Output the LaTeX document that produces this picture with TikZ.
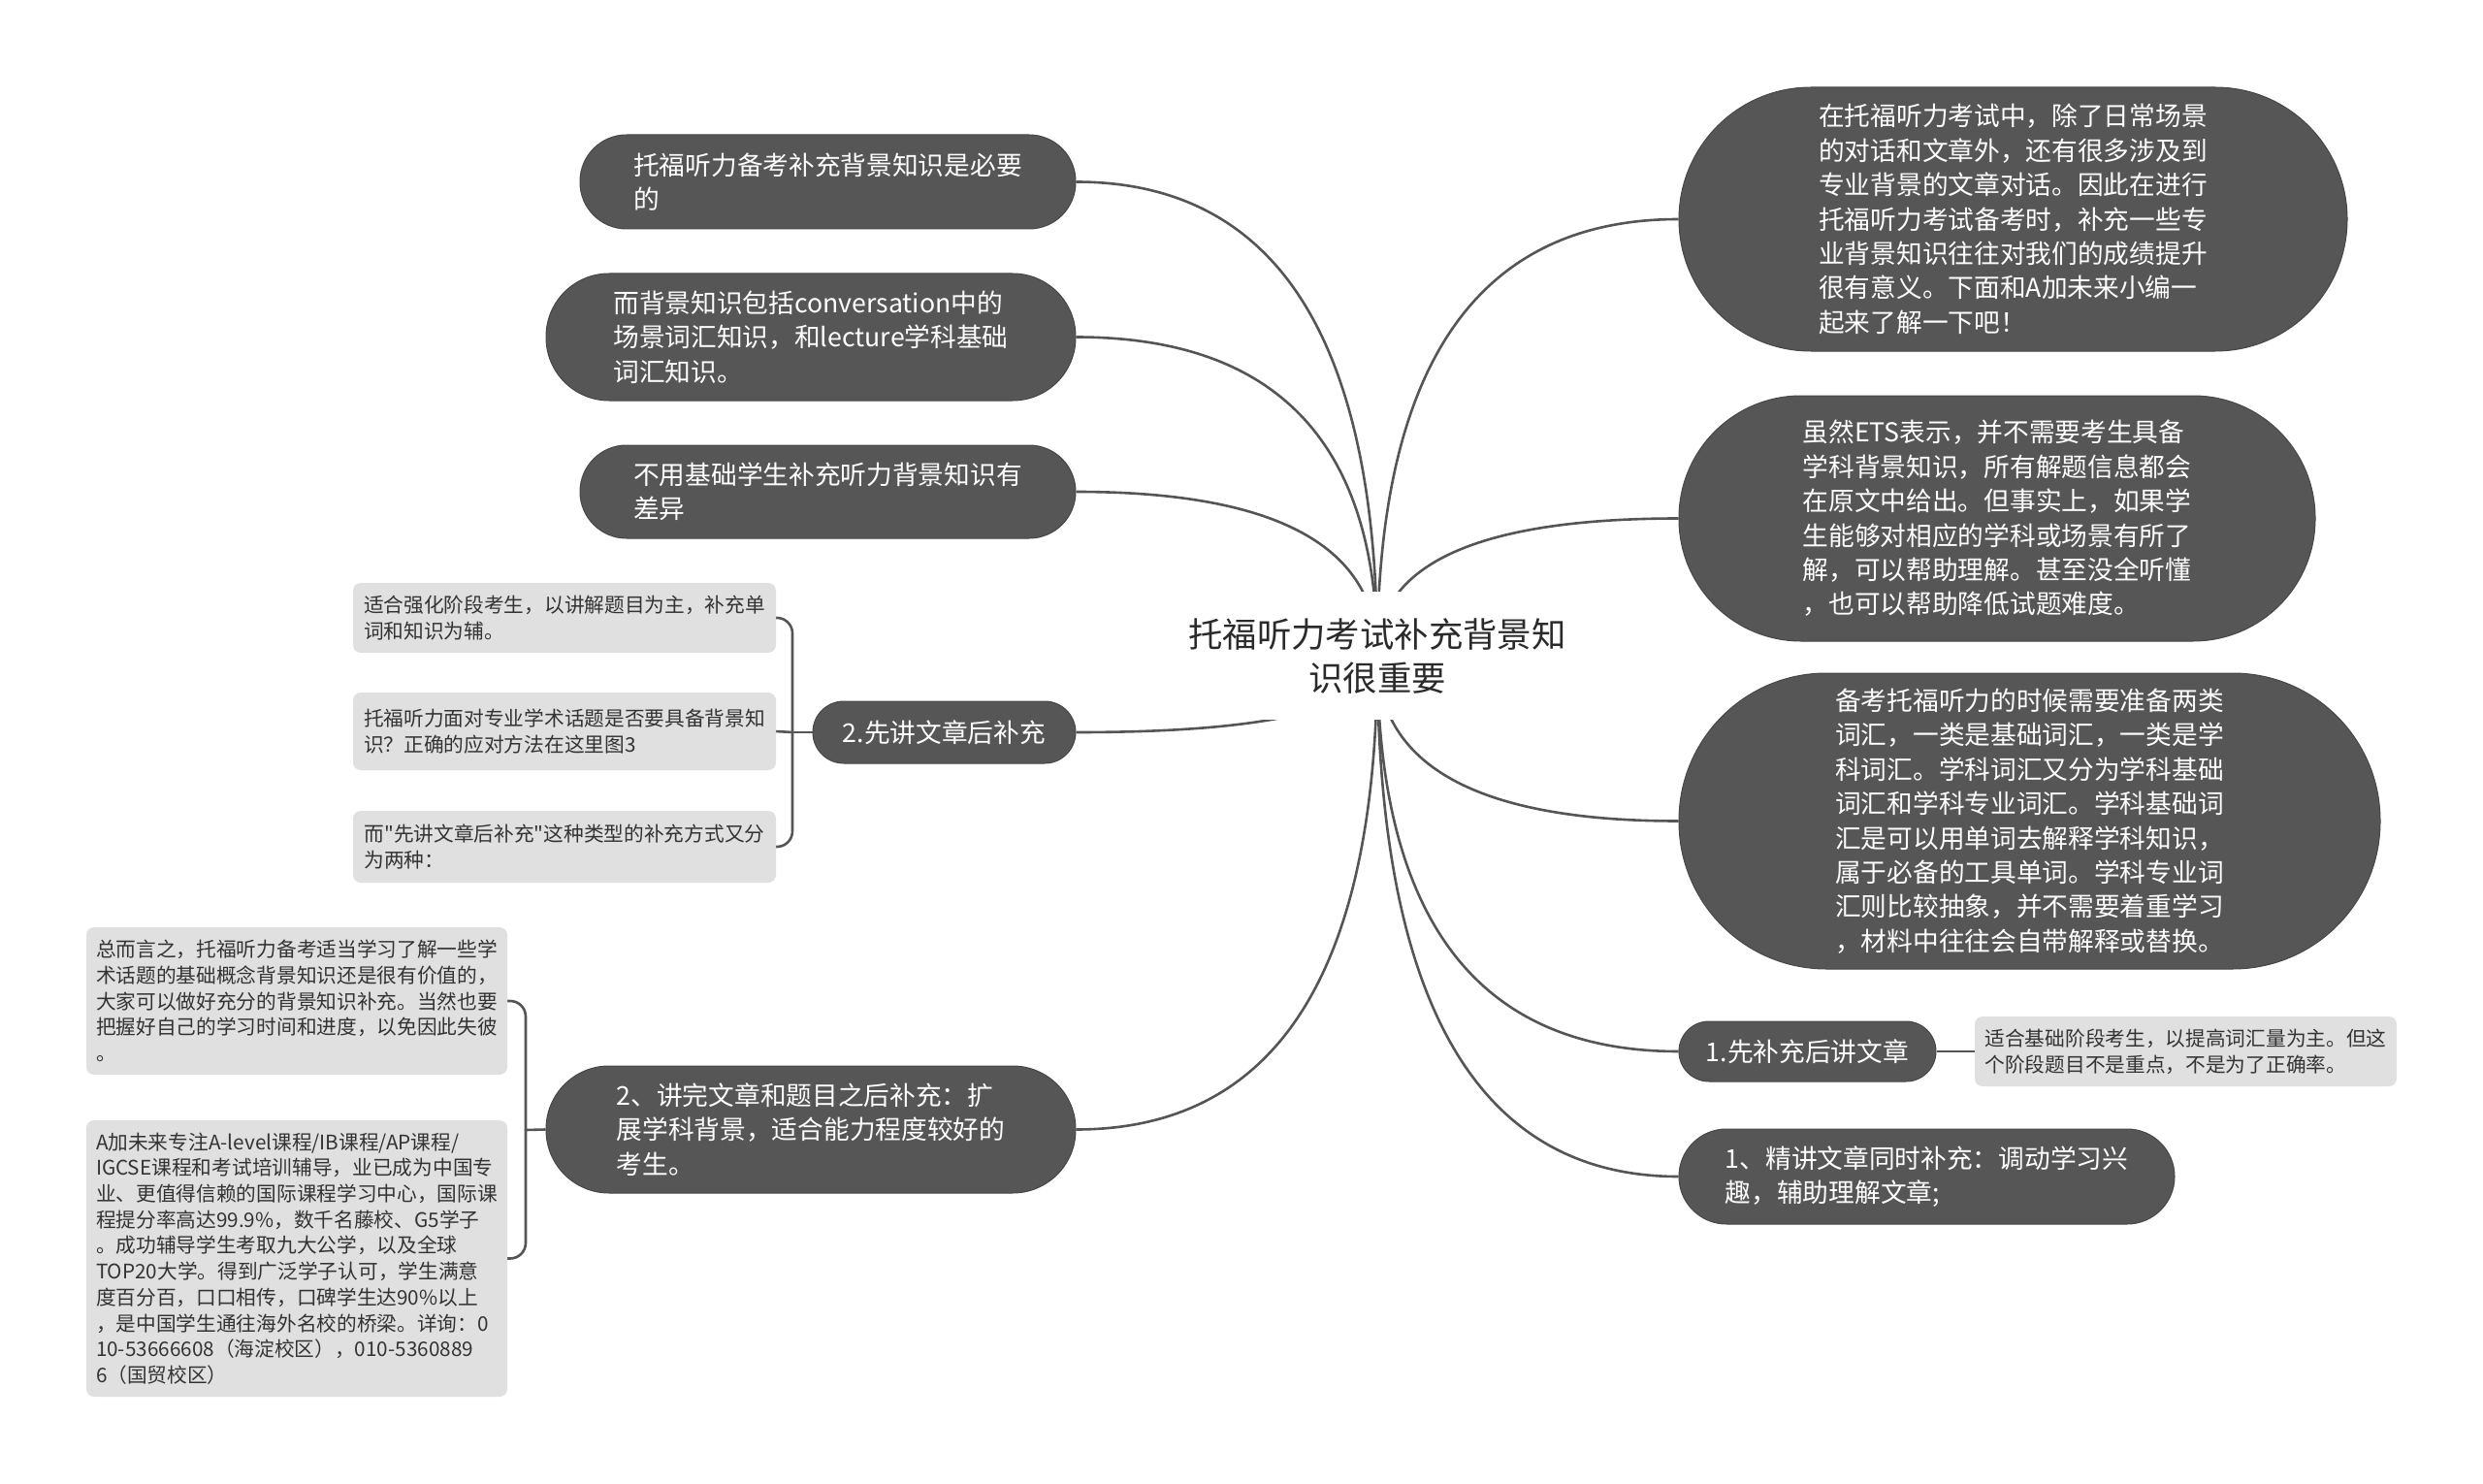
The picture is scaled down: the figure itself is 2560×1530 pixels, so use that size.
\documentclass[tikz,border=0pt]{standalone}
\usepackage{fontspec}
\newfontfamily\cjk{Noto Sans CJK SC}
\usetikzlibrary{calc}
\pgfdeclarelayer{bgzero}
\pgfdeclarelayer{background}
\pgfsetlayers{bgzero,background,main}
\definecolor{dk}{HTML}{565656}
\definecolor{dkb}{HTML}{474747}
\definecolor{lf}{HTML}{E0E0E0}
\definecolor{lt}{HTML}{333333}
\definecolor{ln}{HTML}{555555}
\definecolor{rt}{HTML}{2A2A2A}
\newcommand\branchto[2]{\draw[conn] (#1) .. controls ($(#1)!0.6667!(#1|-#2)$) and ($(#2)!0.6667!(#1|-#2)$) .. (#2);}
\begin{document}
\begin{tikzpicture}[x=1pt,y=-1pt,
 dark/.style={rectangle, fill=dk, draw=dkb, line width=1pt, text=white, align=left, inner sep=0pt, font=\cjk\fontsize{26.7}{35.4}\selectfont},
 leaf/.style={rectangle, fill=lf, rounded corners=8pt, text=lt, align=left, inner sep=0pt, font=\cjk\fontsize{20.7}{26.7}\selectfont},
 conn/.style={draw=ln, line width=2.6pt},
 brk/.style={draw=ln, line width=2.6pt, rounded corners=16pt}
]
\begin{pgfonlayer}{bgzero}
\fill[white] (0,0) rectangle (2560,1530);
\end{pgfonlayer}
\useasboundingbox (0,0) rectangle (2560,1530);

% root
\node[fill=white, font=\cjk\fontsize{35.4}{45}\selectfont, text=rt, align=center, minimum width=440pt, minimum height=132pt, inner sep=0pt] (root) at (1420,676) {托福听力考试补充背景知\\识很重要};

% left branches
\node[dark, minimum width=511pt, minimum height=97pt, rounded corners=48pt] (L1) at (853.5,187.5) {托福听力备考补充背景知识是必要\\的};
\node[dark, minimum width=546pt, minimum height=131pt, rounded corners=65pt] (L2) at (836,347.5) {而背景知识包括conversation中的\\场景词汇知识，和lecture学科基础\\词汇知识。};
\node[dark, minimum width=511pt, minimum height=96pt, rounded corners=48pt] (L3) at (853.5,507) {不用基础学生补充听力背景知识有\\差异};
\node[dark, minimum width=271pt, minimum height=64pt, rounded corners=32pt, align=center] (L4) at (973.5,755) {2.先讲文章后补充};
\node[dark, minimum width=546pt, minimum height=131pt, rounded corners=65pt] (L5) at (836,1164.5) {2、讲完文章和题目之后补充：扩\\展学科背景，适合能力程度较好的\\考生。};

% leaves of L4
\node[leaf, minimum width=436pt, minimum height=72pt] (L4a) at (582,637) {适合强化阶段考生，以讲解题目为主，补充单\\词和知识为辅。};
\node[leaf, minimum width=436pt, minimum height=80pt] (L4b) at (582,754) {托福听力面对专业学术话题是否要具备背景知\\识？正确的应对方法在这里图3};
\node[leaf, minimum width=436pt, minimum height=74pt] (L4c) at (582,873) {而"先讲文章后补充"这种类型的补充方式又分\\为两种：};
\coordinate (J4) at (817,755);

% leaves of L5
\node[leaf, minimum width=434pt, minimum height=152pt] (L5a) at (306,1032) {总而言之，托福听力备考适当学习了解一些学\\术话题的基础概念背景知识还是很有价值的，\\大家可以做好充分的背景知识补充。当然也要\\把握好自己的学习时间和进度，以免因此失彼\\。};
\node[leaf, minimum width=434pt, minimum height=285pt] (L5b) at (306,1297.5) {A加未来专注A-level课程/IB课程/AP课程/\\IGCSE课程和考试培训辅导，业已成为中国专\\业、更值得信赖的国际课程学习中心，国际课\\程提分率高达99.9\%，数千名藤校、G5学子\\。成功辅导学生考取九大公学，以及全球\\TOP20大学。得到广泛学子认可，学生满意\\度百分百，口口相传，口碑学生达90\%以上\\，是中国学生通往海外名校的桥梁。详询：0\\10-53666608（海淀校区），010-5360889\\6（国贸校区）};
\coordinate (J5) at (542,1165);

% right branches
\node[dark, minimum width=689pt, minimum height=272pt, rounded corners=136pt] (R1) at (2075.5,226) {在托福听力考试中，除了日常场景\\的对话和文章外，还有很多涉及到\\专业背景的文章对话。因此在进行\\托福听力考试备考时，补充一些专\\业背景知识往往对我们的成绩提升\\很有意义。下面和A加未来小编一\\起来了解一下吧！};
\node[dark, minimum width=656pt, minimum height=253pt, rounded corners=126pt] (R2) at (2059,534.5) {虽然ETS表示，并不需要考生具备\\学科背景知识，所有解题信息都会\\在原文中给出。但事实上，如果学\\生能够对相应的学科或场景有所了\\解，可以帮助理解。甚至没全听懂\\，也可以帮助降低试题难度。};
\node[dark, minimum width=723pt, minimum height=305pt, rounded corners=152pt] (R3) at (2092.5,846.5) {备考托福听力的时候需要准备两类\\词汇，一类是基础词汇，一类是学\\科词汇。学科词汇又分为学科基础\\词汇和学科专业词汇。学科基础词\\汇是可以用单词去解释学科知识，\\属于必备的工具单词。学科专业词\\汇则比较抽象，并不需要着重学习\\，材料中往往会自带解释或替换。};
\node[dark, minimum width=265pt, minimum height=62pt, rounded corners=31pt, align=center] (R4) at (1863.5,1084) {1.先补充后讲文章};
\node[leaf, minimum width=435pt, minimum height=72pt] (R4a) at (2253.5,1084) {适合基础阶段考生，以提高词汇量为主。但这\\个阶段题目不是重点，不是为了正确率。};
\node[dark, minimum width=511pt, minimum height=98pt, rounded corners=49pt] (R5) at (1986.5,1213) {1、精讲文章同时补充：调动学习兴\\趣，辅助理解文章;};

\begin{pgfonlayer}{background}
% connectors from root (hidden under the root box)
\branchto{root.center}{L1.east}
\branchto{root.center}{L2.east}
\branchto{root.center}{L3.east}
\branchto{root.center}{L4.east}
\branchto{root.center}{L5.east}
\branchto{root.center}{R1.west}
\branchto{root.center}{R2.west}
\branchto{root.center}{R3.west}
\branchto{root.center}{R4.west}
\branchto{root.center}{R5.west}

% bracket L4
\draw[conn] (L4.west) -- (J4);
\draw[brk] (J4) |- (L4a.east);
\draw[conn] (J4) -- (L4b.east);
\draw[brk] (J4) |- (L4c.east);

% bracket L5
\draw[conn] (L5.west) -- (J5);
\draw[brk] (J5) |- (L5a.east);
\draw[brk] (J5) |- (L5b.east);

% R4 leaf
\draw[conn] (R4.east) -- (R4a.west);
\end{pgfonlayer}
\end{tikzpicture}
\end{document}
